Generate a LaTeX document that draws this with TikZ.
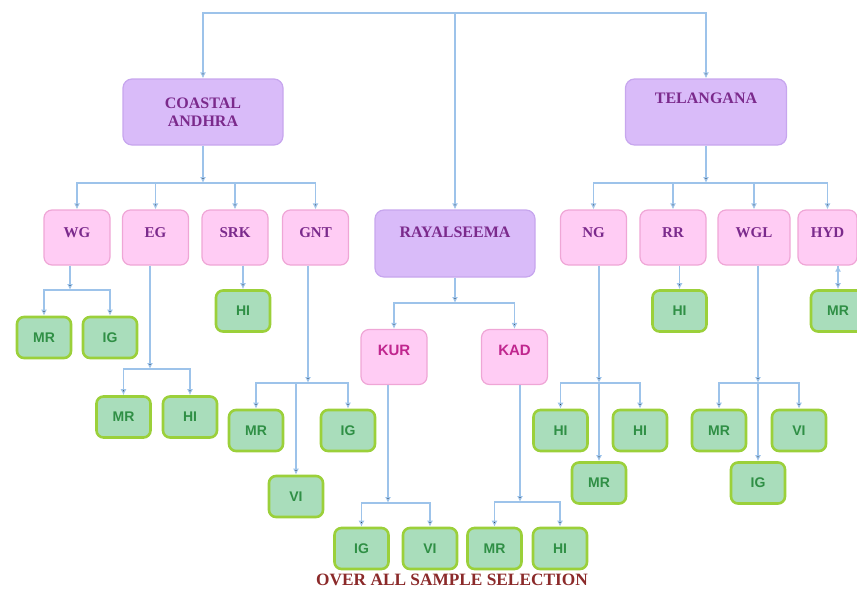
\documentclass[tikz,border=0pt]{standalone}
\usepackage{fontspec}
\setmainfont{Liberation Serif}
\setsansfont{Liberation Sans}
\usetikzlibrary{arrows.meta}
\definecolor{linkblue}{HTML}{9DC3EA}
\definecolor{lavfill}{HTML}{D9BBF9}
\definecolor{lavdraw}{HTML}{C7A6EE}
\definecolor{pinkfill}{HTML}{FFCCF4}
\definecolor{pinkdraw}{HTML}{EFA6D6}
\definecolor{leaffill}{HTML}{A9DDBB}
\definecolor{leafdraw}{HTML}{9BD03A}
\definecolor{leaftext}{HTML}{2F8F45}
\definecolor{regtext}{HTML}{7B2A8C}
\definecolor{towntext}{HTML}{C0268E}
\definecolor{titletext}{HTML}{8B2A2A}

\begin{document}
\begin{tikzpicture}[x=1pt, y=-1pt,
	region/.style={draw=lavdraw, fill=lavfill, line width=1.2pt, rounded corners=9pt, minimum width=160pt, minimum height=66pt, align=center, text=regtext, font=\fontsize{16}{18}\selectfont\bfseries},
	district/.style={draw=pinkdraw, fill=pinkfill, line width=1.2pt, rounded corners=8pt, minimum width=66pt, minimum height=55pt, text=regtext, font=\fontsize{15}{18}\selectfont\bfseries, text height=10pt, text depth=11pt},
	town/.style={district, text=towntext, font=\fontsize{15}{18}\selectfont\sffamily\bfseries, text depth=14pt},
	leaf/.style={draw=leafdraw, fill=leaffill, line width=2.6pt, rounded corners=7pt, minimum width=54pt, minimum height=41pt, text=leaftext, font=\fontsize{14}{16}\selectfont\sffamily\bfseries},
	conn/.style={draw=linkblue, line width=1.9pt, -{Latex[length=6pt,width=6pt]}},
	elbow/.style={to path={-| (\tikztotarget) \tikztonodes}}]
	\useasboundingbox (0,0) rectangle (857,595);

	% regions
	\node[region] (coastal) at (203,112) {COASTAL\\ANDHRA};
	\node[region, minimum width=161pt, text height=10pt, text depth=28pt] (telangana) at (706,112) {TELANGANA};
	\node[region, minimum height=67pt, text height=10pt, text depth=23pt] (rayal) at (455,243.5) {RAYALSEEMA};

	% districts
	\node[district] (wg) at (77,237.5) {WG};
	\node[district] (eg) at (155.5,237.5) {EG};
	\node[district] (srk) at (235,237.5) {SRK};
	\node[district] (gnt) at (315.5,237.5) {GNT};
	\node[district] (ng) at (593.5,237.5) {NG};
	\node[district] (rr) at (673,237.5) {RR};
	\node[district, minimum width=72pt] (wgl) at (754,237.5) {WGL};
	\node[district, minimum width=59pt] (hyd) at (827.5,237.5) {HYD};
	\node[town] (kur) at (394,357) {KUR};
	\node[town] (kad) at (514.5,357) {KAD};

	% samples
	\node[leaf] (wgmr) at (44,337.5) {MR};
	\node[leaf] (wgig) at (110,337.5) {IG};
	\node[leaf] (srkhi) at (243,311) {HI};
	\node[leaf] (egmr) at (123.5,417) {MR};
	\node[leaf] (eghi) at (190,417) {HI};
	\node[leaf] (gntmr) at (256,430.5) {MR};
	\node[leaf] (gntig) at (348,430.5) {IG};
	\node[leaf] (gntvi) at (296,496.5) {VI};
	\node[leaf] (kurig) at (361.5,548.5) {IG};
	\node[leaf] (kurvi) at (430,548.5) {VI};
	\node[leaf] (kadmr) at (494.5,548.5) {MR};
	\node[leaf] (kadhi) at (560,548.5) {HI};
	\node[leaf] (nghia) at (560.5,430.5) {HI};
	\node[leaf] (nghib) at (640,430.5) {HI};
	\node[leaf] (ngmr) at (599,483) {MR};
	\node[leaf] (rrhi) at (679.5,311) {HI};
	\node[leaf] (wglmr) at (719,430.5) {MR};
	\node[leaf] (wglvi) at (799,430.5) {VI};
	\node[leaf] (wglig) at (758,483) {IG};
	\node[leaf] (hydmr) at (838,311) {MR};

	\node[font=\fontsize{17.3}{19}\selectfont\bfseries, text=titletext] (title) at (452,580) {OVER ALL SAMPLE SELECTION};

	% junctions
	\coordinate (top) at (455,13);
	\coordinate (cj) at (203,183);
	\coordinate (tj) at (706,183);
	\coordinate (rj) at (455,303);
	\coordinate (wgj) at (70,290);
	\coordinate (egj) at (150,369);
	\coordinate (gntj) at (308,383);
	\coordinate (kurj) at (388,503);
	\coordinate (kadj) at (520,502);
	\coordinate (ngj) at (599,383);
	\coordinate (wglj) at (758,383);

	% connectors
	\path[conn]
	(top) edge[elbow] (coastal)
	      edge[elbow] (telangana)
	      edge (rayal)
	(coastal) edge (cj)
	(cj) edge[elbow] (wg) edge[elbow] (eg) edge[elbow] (srk) edge[elbow] (gnt)
	(telangana) edge (tj)
	(tj) edge[elbow] (ng) edge[elbow] (rr) edge[elbow] (wgl) edge[elbow] (hyd)
	(rayal) edge (rj)
	(rj) edge[elbow] (kur) edge[elbow] (kad)
	(wg.south -| wgj) edge (wgj)
	(wgj) edge[elbow] (wgmr) edge[elbow] (wgig)
	(srk.south -| srkhi) edge (srkhi)
	(eg.south -| egj) edge (egj)
	(egj) edge[elbow] (egmr) edge[elbow] (eghi)
	(gnt.south -| gntj) edge (gntj)
	(gntj) edge[elbow] (gntmr) edge[elbow] (gntig) edge[elbow] (gntvi)
	(kur.south -| kurj) edge (kurj)
	(kurj) edge[elbow] (kurig) edge[elbow] (kurvi)
	(kad.south -| kadj) edge (kadj)
	(kadj) edge[elbow] (kadmr) edge[elbow] (kadhi)
	(ng.south -| ngj) edge (ngj)
	(ngj) edge[elbow] (nghia) edge[elbow] (nghib) edge (ngmr)
	(rr.south -| rrhi) edge (rrhi)
	(wgl.south -| wglj) edge (wglj)
	(wglj) edge[elbow] (wglmr) edge[elbow] (wglvi) edge (wglig)
	(hyd.south -| hydmr) edge (hydmr)
	;
\end{tikzpicture}
\end{document}
